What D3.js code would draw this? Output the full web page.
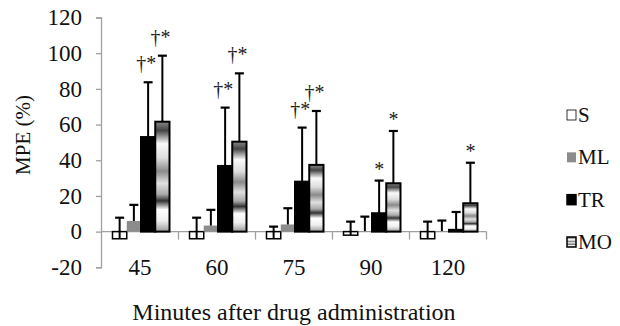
<!DOCTYPE html>
<html>
<head>
<meta charset="utf-8">
<script src="https://cdn.jsdelivr.net/npm/d3@7"></script>
<style>
  body { margin: 0; background: #fff; }
</style>
</head>
<body>
<div id="container"></div>
<script>
// data
var categories = ["45", "60", "75", "90", "120"];
var series = ["S", "ML", "TR", "MO"];
var valS  = [-4, -4, -4, -2, -4];
var valML = [6, 3.4, 4, 0.3, 0.3];
var valTR = [53, 36.8, 28, 10.3, 1];
var valMO = [61.6, 50.4, 37.4, 27.1, 15.9];
// top of each error bar
var errS  = [7.8, 7.8, 2.8, 5.6, 5.6];
var errML = [15, 12.2, 13.1, 8.4, 6.2];
var errTR = [83.7, 69.5, 58.3, 28.6, 11];
var errMO = [98.6, 88.7, 67.6, 56.4, 38.6];
// significance marks
var markTR = ["†*", "†*", "†*", "*", ""];
var markMO = ["†*", "†*", "†*", "*", "*"];
var yTicks = [-20, 0, 20, 40, 60, 80, 100, 120];

var values = { S: valS, ML: valML, TR: valTR, MO: valMO };
var errs = { S: errS, ML: errML, TR: errTR, MO: errMO };
var marks = { TR: markTR, MO: markMO };

var width = 620, height = 326;
var serif = "'Liberation Serif', 'Times New Roman', serif";
var svg = d3.select("#container").append("svg")
    .attr("width", width)
    .attr("height", height)
    .attr("font-family", serif);

var defs = svg.append("defs");
var grad = defs.append("linearGradient")
    .attr("id", "moFill")
    .attr("x1", 0).attr("y1", 0).attr("x2", 0).attr("y2", 1);
[[0, "#888"], [0.08, "#444"], [0.2, "#fafafa"], [0.33, "#ddd"], [0.45, "#8a8a8a"],
 [0.56, "#e0e0e0"], [0.66, "#aaa"], [0.72, "#333"], [0.8, "#fff"], [0.9, "#eee"], [1, "#9a9a9a"]]
  .forEach(function(s) {
    grad.append("stop").attr("offset", s[0]).attr("stop-color", s[1]);
  });

var x0 = d3.scaleBand().domain(categories).range([101.5, 486.5]);
var x1 = d3.scaleBand().domain(series).range([11, 68]);
var y = d3.scaleLinear().domain([-20, 120]).range([267.3, 17.5]);

var fills = { S: "#fff", ML: "#8c8c8c", TR: "#000", MO: "url(#moFill)" };
var strokes = { S: "#000", ML: "none", TR: "#000", MO: "#000" };

// y axis
var yAxis = svg.append("g")
    .attr("transform", "translate(101,0)")
    .call(d3.axisLeft(y).tickValues(yTicks).tickSize(5).tickPadding(14)
      .tickFormat(function(d) { return String(d); }));
yAxis.attr("font-family", null).attr("font-size", null);
yAxis.select(".domain").attr("stroke", "#a0a0a0").attr("stroke-width", 1.3);
yAxis.selectAll(".tick line").attr("stroke", "#a0a0a0").attr("stroke-width", 1.3);
yAxis.selectAll(".tick text")
    .attr("fill", "#111")
    .attr("font-size", 23);

// x axis along zero
var xAxisG = svg.append("g");
xAxisG.append("line")
    .attr("x1", x0.range()[0]).attr("x2", x0.range()[1])
    .attr("y1", y(0)).attr("y2", y(0))
    .attr("stroke", "#a0a0a0").attr("stroke-width", 1.3);
var bounds = categories.map(function(c) { return x0(c); }).concat([x0.range()[1]]);
xAxisG.selectAll(".bt").data(bounds.slice(1)).enter().append("line")
    .attr("x1", function(d) { return d; }).attr("x2", function(d) { return d; })
    .attr("y1", y(0)).attr("y2", y(0) + 8)
    .attr("stroke", "#a0a0a0").attr("stroke-width", 1.3);
xAxisG.selectAll(".xl").data(categories).enter().append("text")
    .attr("x", function(d) { return x0(d) + x0.bandwidth() / 2; })
    .attr("y", 275)
    .attr("text-anchor", "middle")
    .attr("font-size", 23)
    .attr("fill", "#111")
    .text(function(d) { return d; });

// bars
var groups = svg.selectAll(".grp").data(categories).enter().append("g")
    .attr("transform", function(d) { return "translate(" + x0(d) + ",0)"; });

series.forEach(function(s) {
  groups.append("rect")
      .attr("x", x1(s))
      .attr("y", function(d, i) { return Math.min(y(values[s][i]), y(0)); })
      .attr("width", x1.bandwidth())
      .attr("height", function(d, i) { return Math.abs(y(values[s][i]) - y(0)); })
      .attr("fill", fills[s])
      .attr("stroke", strokes[s])
      .attr("stroke-width", s === "S" ? 1.5 : 2);
});

// error bars
series.forEach(function(s) {
  var cx = x1(s) + x1.bandwidth() / 2;
  groups.append("line")
      .attr("x1", cx).attr("x2", cx)
      .attr("y1", function(d, i) { return y(values[s][i]); })
      .attr("y2", function(d, i) { return y(errs[s][i]); })
      .attr("stroke", "#000").attr("stroke-width", 2);
  groups.append("line")
      .attr("x1", cx - 4.5).attr("x2", cx + 4.5)
      .attr("y1", function(d, i) { return y(errs[s][i]); })
      .attr("y2", function(d, i) { return y(errs[s][i]); })
      .attr("stroke", "#000").attr("stroke-width", 2.2);
});

// significance marks
["TR", "MO"].forEach(function(s) {
  var cx = x1(s) + x1.bandwidth() / 2;
  groups.append("text")
      .attr("x", function(d, i) { return cx - (marks[s][i].length > 1 ? 2 : 0); })
      .attr("y", function(d, i) { return y(errs[s][i]) - (marks[s][i].length > 1 ? 12 : 5); })
      .attr("text-anchor", "middle")
      .attr("font-size", 20)
      .attr("fill", "#222")
      .text(function(d, i) { return marks[s][i]; });
});

// legend
var legend = svg.append("g");
var legY = d3.scalePoint().domain(series).range([115, 242]);
series.forEach(function(s) {
  legend.append("rect")
      .attr("x", 567).attr("y", legY(s) - 5)
      .attr("width", 9).attr("height", 10)
      .attr("fill", fills[s])
      .attr("stroke", s === "ML" ? "none" : "#000")
      .attr("stroke-width", s === "S" ? 0.8 : 1.5);
  legend.append("text")
      .attr("x", 578).attr("y", legY(s) + 7)
      .attr("font-size", 21)
      .attr("fill", "#111")
      .text(s);
});

// axis titles
svg.append("text")
    .attr("transform", "translate(30,135) rotate(-90)")
    .attr("text-anchor", "middle")
    .attr("font-size", 21)
    .attr("fill", "#111")
    .text("MPE (%)");

svg.append("text")
    .attr("x", 294).attr("y", 320)
    .attr("text-anchor", "middle")
    .attr("font-size", 24)
    .attr("fill", "#111")
    .text("Minutes after drug administration");
</script>
</body>
</html>
